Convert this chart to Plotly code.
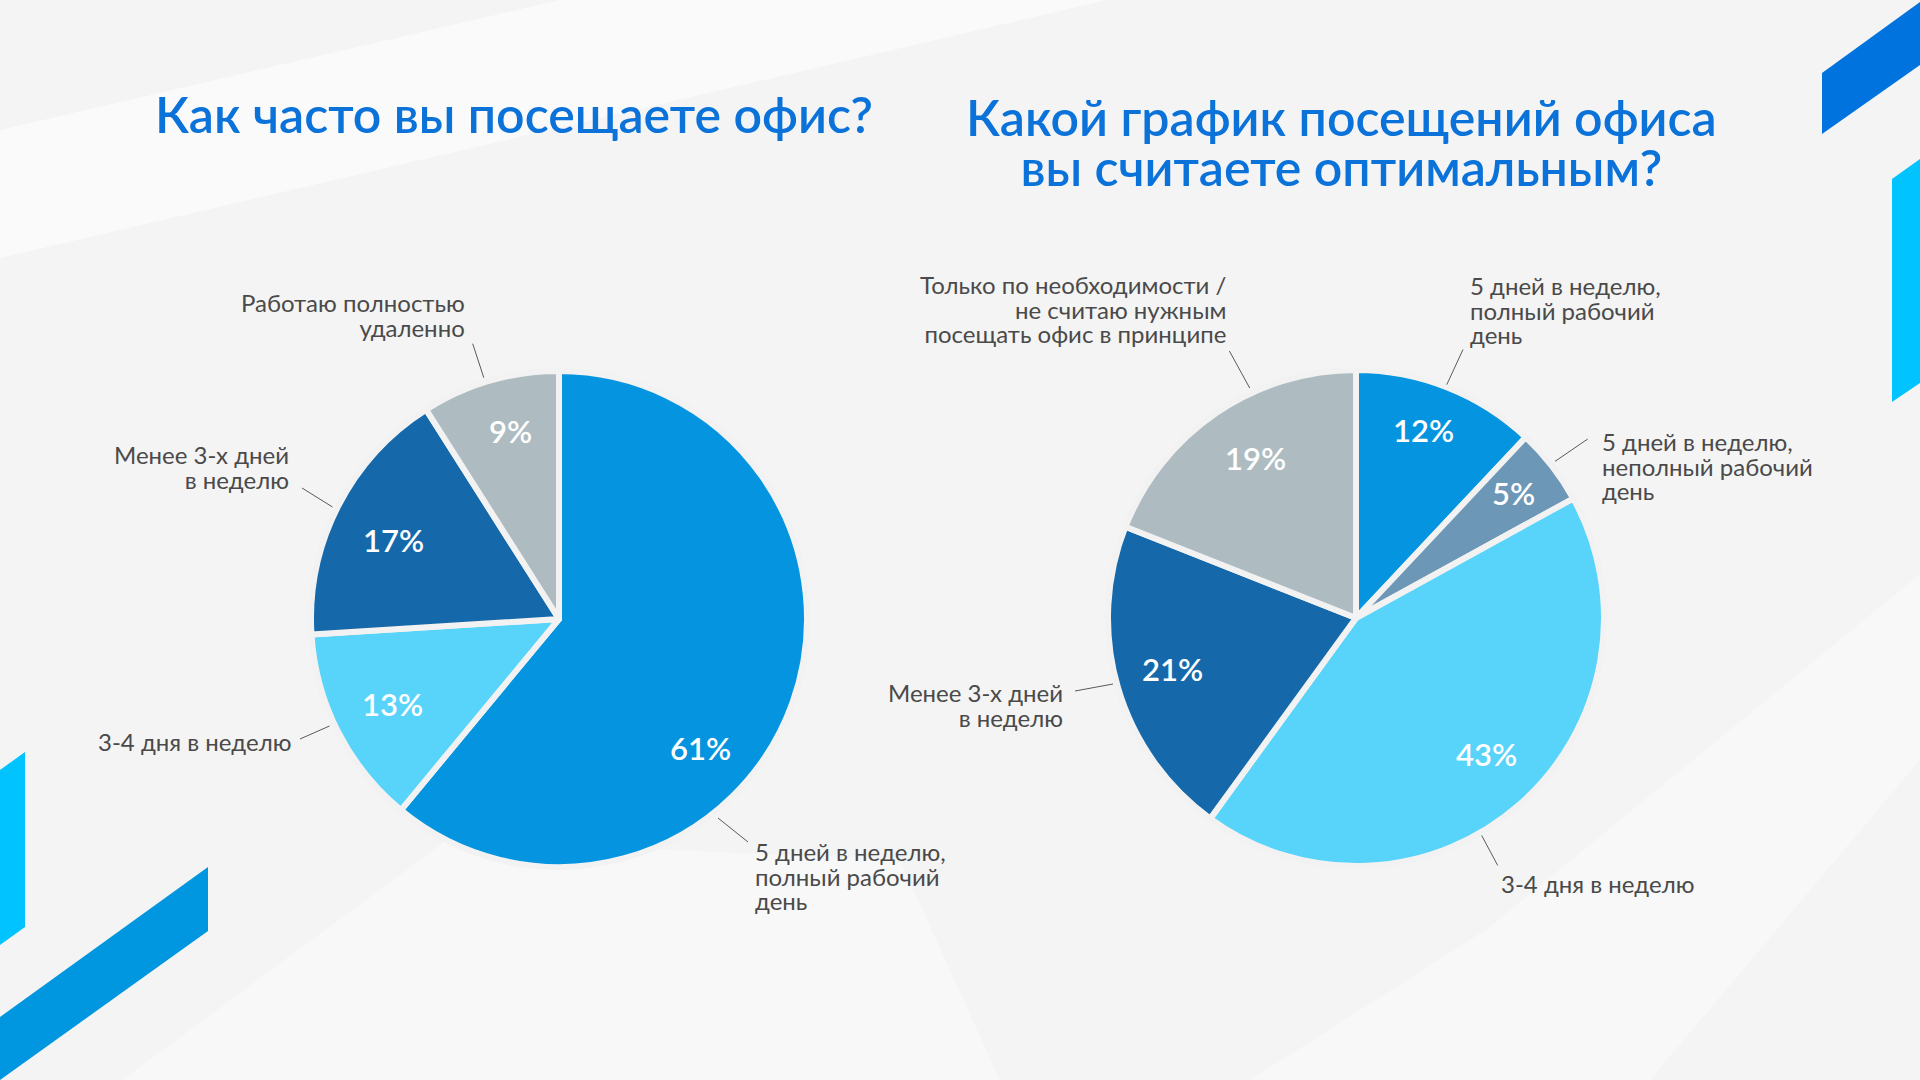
import plotly.graph_objects as go

W, H = 1920, 1080

# ---------------- data ----------------
left_title = ["Как часто вы посещаете офис?"]
left_labels = [
    "5 дней в неделю,<br>полный рабочий<br>день",
    "3-4 дня в неделю",
    "Менее 3-х дней<br>в неделю",
    "Работаю полностью<br>удаленно",
]
left_values = [61, 13, 17, 9]

right_title = ["Какой график посещений офиса", "вы считаете оптимальным?"]
right_labels = [
    "5 дней в неделю,<br>полный рабочий<br>день",
    "5 дней в неделю,<br>неполный рабочий<br>день",
    "3-4 дня в неделю",
    "Менее 3-х дней<br>в неделю",
    "Только по необходимости /<br>не считаю нужным<br>посещать офис в принципе",
]
right_values = [12, 5, 43, 21, 19]

# ---------------- styles ----------------
left_colors = ["#0494E0", "#58D3FA", "#1569AB", "#AEBCC2"]
right_colors = ["#0494E0", "#6D97B6", "#58D3FA", "#1569AB", "#AEBCC2"]
BG = "#F4F4F4"
TITLE_COLOR = "#0A72D8"
LABEL_COLOR = "#4A4A4A"
FONT = "Lato"
LABEL_SIZE = 24
TITLE_SIZE = 50

# ---------------- layout positions (pixels) ----------------
R = 245
GAP = 6
LEFT_C = (559, 619)
RIGHT_C = (1356, 618)
LINE_STEP = 24.6
TITLE_STEP = 50

left_title_pos = (514, 114)
right_title_pos = (1341, 117)

left_label_pos = [(753, "left", 851.6), (294, "right", 741.5), (291, "right", 454.5), (467, "right", 303)]
left_leaders = [((718, 818), (748, 842)), ((300, 739), (329.5, 726)),
                ((302, 488), (332.5, 507)), ((472.7, 343.7), (483.8, 377.7))]
left_pct_pos = [(700, 748), (392, 703.6), (393, 540), (510, 431)]

right_label_pos = [(1468, "left", 285), (1600, "left", 441.8), (1499, "left", 883.7),
                   (1065, "right", 693), (1229.4, "right", 284)]
right_leaders = [((1463, 349.5), (1446.8, 384.6)), ((1587.7, 439), (1555, 461.4)),
                 ((1481.7, 835.5), (1497.7, 865.4)), ((1075, 691), (1113, 684)),
                 ((1229.4, 351), (1249.7, 388))]
right_pct_pos = [(1423.6, 429.8), (1513, 493), (1486.6, 753.5), (1172.5, 669), (1255, 458)]

PLOTLY_LINE_SPACING = 1.3


def px(x):
    return x / W


def py(y):
    return 1 - y / H


def domain(c):
    r = R + GAP / 2
    return dict(x=[px(c[0] - r), px(c[0] + r)], y=[py(c[1] + r), py(c[1] - r)])


def block(lines, size, step):
    """One text element; base font sets line spacing, inner span sets glyph size."""
    base = step / PLOTLY_LINE_SPACING
    txt = "<br>".join(lines)
    return f'<span style="font-size:{size}px">{txt}</span>', base


fig = go.Figure()
for labels, values, colors, c in [
    (left_labels, left_values, left_colors, LEFT_C),
    (right_labels, right_values, right_colors, RIGHT_C),
]:
    fig.add_trace(go.Pie(
        labels=labels, values=values, sort=False, direction="clockwise", rotation=0,
        marker=dict(colors=colors, line=dict(color="#F2F2F2", width=GAP)),
        textinfo="none", hoverinfo="skip", domain=domain(c), showlegend=False,
    ))

shapes = []
annotations = []


def poly(pts, color, opacity=1.0):
    path = "M " + " L ".join(f"{px(x):.5f},{py(y):.5f}" for x, y in pts) + " Z"
    return dict(type="path", xref="paper", yref="paper", path=path, fillcolor=color,
                line=dict(width=0), opacity=opacity, layer="below")


# background decoration
shapes.append(poly([(0, 258), (1107, 0), (560, 0), (0, 130)], "#FFFFFF", 0.55))
shapes.append(poly([(447, 840), (122, 1080), (1000, 1080), (900, 860)], "#FFFFFF", 0.35))
shapes.append(poly([(1487, 929), (1920, 574), (1920, 760), (1650, 1080), (1250, 1080)], "#FFFFFF", 0.35))
shapes.append(poly([(1822, 73), (1920, 2), (1920, 65), (1822, 134)], "#0073DE"))
shapes.append(poly([(1892, 179), (1920, 159), (1920, 383), (1892, 402)], "#00C3FF"))
shapes.append(poly([(0, 770), (25, 752), (25, 927), (0, 945)], "#00C3FF"))
shapes.append(poly([(0, 1017), (208, 867), (208, 931), (0, 1080)], "#0096E0"))

# titles
for lines, (tx, ty) in [(left_title, left_title_pos), (right_title, right_title_pos)]:
    txt, base = block(lines, TITLE_SIZE, TITLE_STEP)
    yc = ty + (len(lines) - 1) * TITLE_STEP / 2
    annotations.append(dict(
        x=px(tx), y=py(yc), xref="paper", yref="paper",
        text=txt, showarrow=False, xanchor="center", yanchor="middle", align="center",
        font=dict(family=FONT, size=base, color=TITLE_COLOR, weight=600),
    ))

# labels, leaders, percentages
for labels, values, lpos, leaders, ppos in [
    (left_labels, left_values, left_label_pos, left_leaders, left_pct_pos),
    (right_labels, right_values, right_label_pos, right_leaders, right_pct_pos),
]:
    for lab, val, (lx, anchor, ly), ((x0, y0), (x1, y1)), (qx, qy) in zip(labels, values, lpos, leaders, ppos):
        lines = lab.split("<br>")
        txt, base = block(lines, LABEL_SIZE, LINE_STEP)
        yc = ly + (len(lines) - 1) * LINE_STEP / 2
        annotations.append(dict(
            x=px(lx), y=py(yc), xref="paper", yref="paper",
            text=txt, showarrow=False, xanchor=anchor, yanchor="middle", align=anchor,
            font=dict(family=FONT, size=base, color=LABEL_COLOR),
        ))
        shapes.append(dict(type="line", xref="paper", yref="paper",
                           x0=px(x0), y0=py(y0), x1=px(x1), y1=py(y1),
                           line=dict(color="#5A5A5A", width=1)))
        annotations.append(dict(
            x=px(qx), y=py(qy), xref="paper", yref="paper",
            text=f"{val}%", showarrow=False, xanchor="center", yanchor="middle",
            font=dict(family=FONT, size=31, color="#FFFFFF", weight=600),
        ))

fig.update_layout(
    width=W, height=H, margin=dict(l=0, r=0, t=0, b=0, pad=0),
    paper_bgcolor=BG, plot_bgcolor=BG, showlegend=False,
    shapes=shapes, annotations=annotations,
)

fig.write_html("out.html", config={"displayModeBar": False},
               post_script="document.body.style.margin='0';document.body.style.overflow='hidden';")
